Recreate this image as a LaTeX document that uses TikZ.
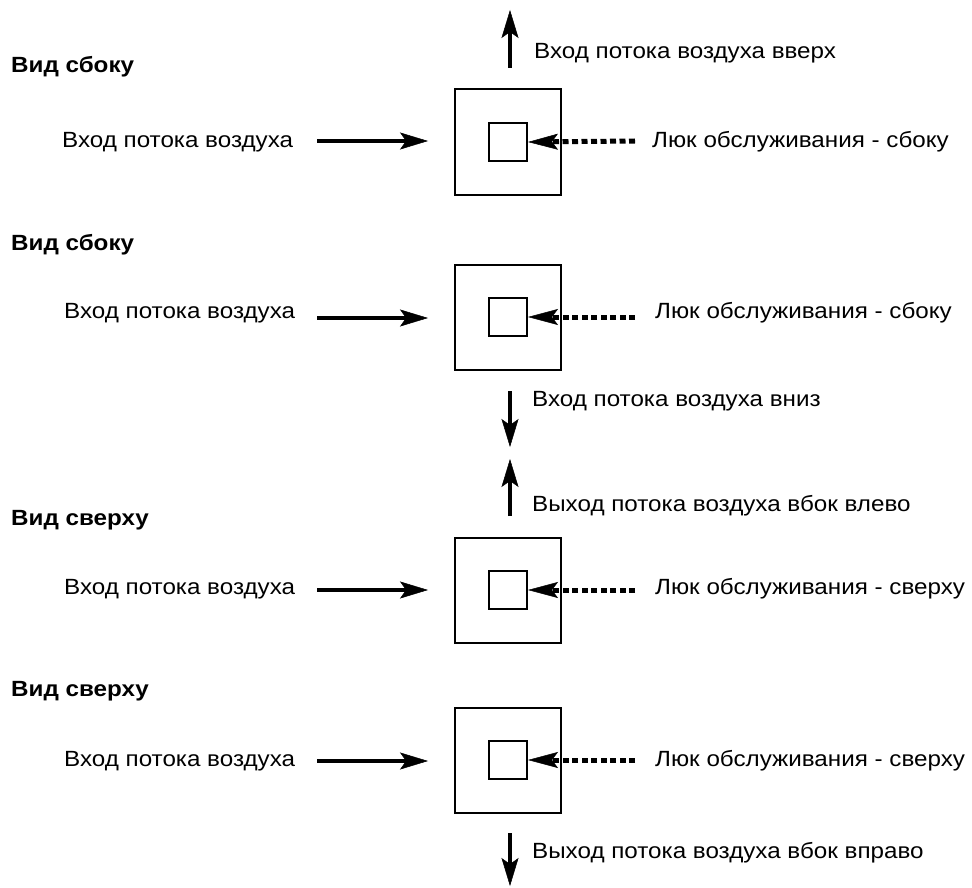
\documentclass[tikz,border=0pt]{standalone}
\usepackage{fontspec}
\setmainfont[FakeStretch=1.1]{Liberation Sans}
\usetikzlibrary{arrows.meta}
\begin{document}
\begin{tikzpicture}[x=1pt,y=-1pt,
  lbl/.style={font=\fontsize{22}{26}\selectfont, inner sep=0pt, anchor=base west},
  ttl/.style={font=\fontsize{22}{26}\selectfont\bfseries, inner sep=0pt, anchor=base west},
  outerbox/.style={draw, line width=2pt, minimum width=106pt, minimum height=105pt, inner sep=0pt},
  innerbox/.style={draw, line width=2pt, minimum width=38pt, minimum height=38pt, inner sep=0pt},
  flow/.style={line width=4pt, -{Stealth[length=28pt,width=17pt,inset=6pt,line width=0.5pt]}},
  hatch/.style={line width=5pt, dash pattern=on 6pt off 3.5pt, -{Stealth[length=30pt,width=16pt,inset=6pt,line width=0.5pt]}},
]
\useasboundingbox (0,0) rectangle (972,888);

% ---------- row 1 ----------
\coordinate (u1s) at (510,68);
\coordinate (u1e) at (510,10);
\draw[flow] (u1s) -- (u1e);
\node[lbl] (tu1) at (534,59) {Вход потока воздуха вверх};
\node[ttl] (t1) at (11,73) {Вид сбоку};
\node[outerbox] (o1) at (508,142) {};
\node[innerbox] (i1) at (508,142) {};
\node[lbl] (a1) at (62,148) {Вход потока воздуха};
\coordinate (l1s) at (317,141);
\coordinate (l1e) at (428,141);
\draw[flow] (l1s) -- (l1e);
\coordinate (d1) at (635,141);
\draw[hatch] (d1) -- (i1.east);
\node[lbl] (h1) at (652,148) {Люк обслуживания - сбоку};

% ---------- row 2 ----------
\node[ttl] (t2) at (11,250) {Вид сбоку};
\node[outerbox] (o2) at (508,317) {};
\node[innerbox] (i2) at (508,317) {};
\node[lbl] (a2) at (64,318) {Вход потока воздуха};
\coordinate (l2s) at (317,318);
\coordinate (l2e) at (428,318);
\draw[flow] (l2s) -- (l2e);
\coordinate (d2) at (635,317);
\draw[hatch] (d2) -- (i2.east);
\node[lbl] (h2) at (655,318) {Люк обслуживания - сбоку};
\coordinate (v2s) at (510,391);
\coordinate (v2e) at (510,447);
\draw[flow] (v2s) -- (v2e);
\node[lbl] (tv2) at (532,406) {Вход потока воздуха вниз};

% ---------- row 3 ----------
\coordinate (u3s) at (510,516);
\coordinate (u3e) at (510,459);
\draw[flow] (u3s) -- (u3e);
\node[lbl] (tu3) at (532,511) {Выход потока воздуха вбок влево};
\node[ttl] (t3) at (11,525) {Вид сверху};
\node[outerbox] (o3) at (508,590) {};
\node[innerbox] (i3) at (508,590) {};
\node[lbl] (a3) at (64,594) {Вход потока воздуха};
\coordinate (l3s) at (317,590);
\coordinate (l3e) at (428,590);
\draw[flow] (l3s) -- (l3e);
\coordinate (d3) at (635,590);
\draw[hatch] (d3) -- (i3.east);
\node[lbl] (h3) at (655,594) {Люк обслуживания - сверху};

% ---------- row 4 ----------
\node[ttl] (t4) at (11,696) {Вид сверху};
\node[outerbox] (o4) at (508,760) {};
\node[innerbox] (i4) at (508,760) {};
\node[lbl] (a4) at (64,766) {Вход потока воздуха};
\coordinate (l4s) at (317,761);
\coordinate (l4e) at (428,761);
\draw[flow] (l4s) -- (l4e);
\coordinate (d4) at (635,760);
\draw[hatch] (d4) -- (i4.east);
\node[lbl] (h4) at (655,766) {Люк обслуживания - сверху};
\coordinate (v4s) at (510,833);
\coordinate (v4e) at (510,886);
\draw[flow] (v4s) -- (v4e);
\node[lbl] (tv4) at (532,858) {Выход потока воздуха вбок вправо};
\end{tikzpicture}
\end{document}
